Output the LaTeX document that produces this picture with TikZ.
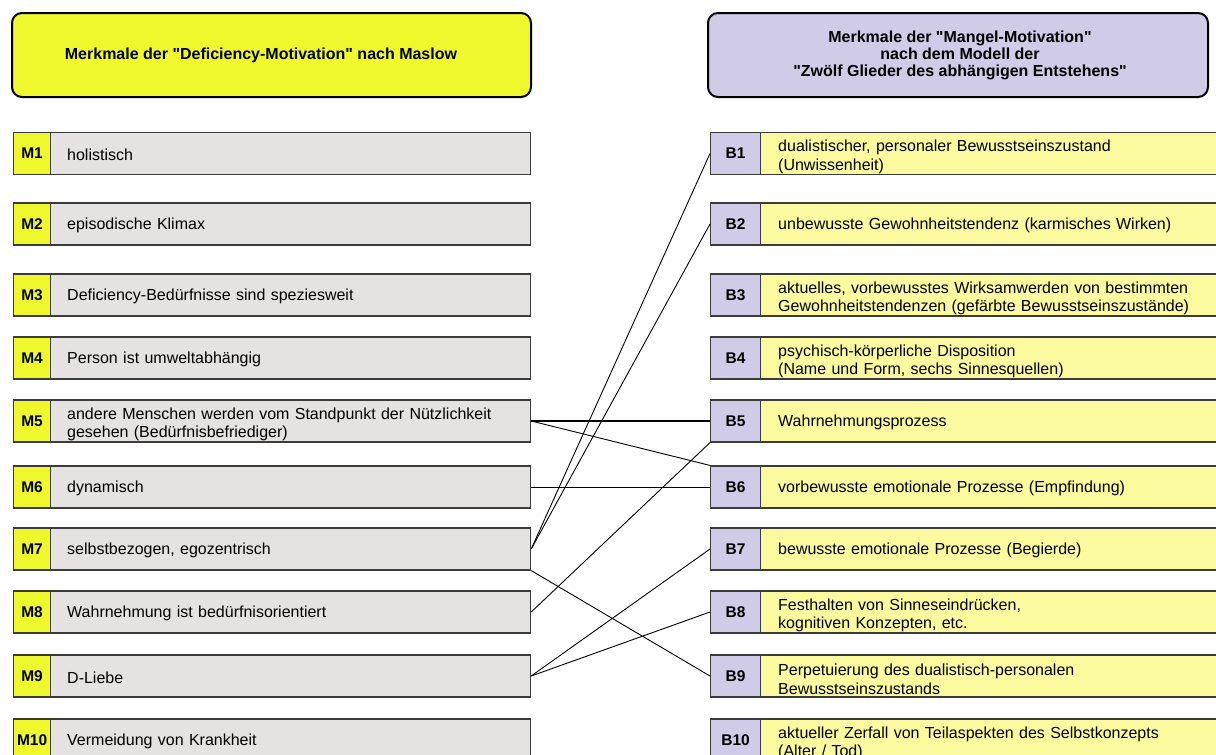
\documentclass[tikz,border=0pt]{standalone}
\usepackage{fontspec}
% keep straight double quotes as typed
\setmainfont{Liberation Sans}[Ligatures=TeXOff]

\definecolor{limey}{HTML}{EEF82C}
\definecolor{lilac}{HTML}{D0CBE7}
\definecolor{paleyellow}{HTML}{FCFA9E}
\definecolor{lightgrey}{HTML}{E5E3E1}
\definecolor{boxline}{HTML}{3C3C3C}

\tikzset{
  box/.style={draw=boxline, line width=1.2pt, inner sep=0pt, anchor=west,
              minimum height=42pt},
  labelfont/.style={font=\bfseries\fontsize{15.5}{18}\selectfont},
  mlabel/.style={box, fill=limey, minimum width=37pt, labelfont},
  mtext/.style={box, fill=lightgrey, minimum width=480pt},
  blabel/.style={box, fill=lilac, minimum width=50pt, labelfont},
  btext/.style={box, fill=paleyellow, minimum width=480pt},
  entry/.style={anchor=west, inner sep=0pt, align=left, text width=450pt,
                font=\fontsize{16}{18.5}\selectfont},
  header/.style={draw=black, line width=2pt, rounded corners=10pt,
                 minimum height=84pt, inner sep=0pt},
  headtext/.style={align=center, inner sep=0pt,
                   font=\bfseries\fontsize{16}{17}\selectfont},
  conn/.style={draw=black, line width=0.9pt},
}

% #1 id, #2 row centre, #3 label, #4 entry text, #5 downward nudge of the text
\newcommand{\mrow}[5]{%
  \node[mlabel] (m#1) at (13,#2) {#3};
  \node[mtext] (m#1t) at (50,#2) {};
  \node[entry] (m#1x) at ([xshift=17pt,yshift=-#5pt]m#1t.west) {#4};}
\newcommand{\brow}[5]{%
  \node[blabel] (b#1) at (710,#2) {#3};
  \node[btext] (b#1t) at (760,#2) {};
  \node[entry] (b#1x) at ([xshift=18pt,yshift=-#5pt]b#1t.west) {#4};}

\begin{document}
\begin{tikzpicture}[x=1pt,y=-1pt]
  \useasboundingbox (0,0) rectangle (1216,755);
  \clip (0,0) rectangle (1216,755);

  % column headers
  \node[header, fill=limey, minimum width=519pt] (hl) at (271.5,55) {};
  \node[headtext] (hltext) at (261,55)
    {Merkmale der "Deficiency-Motivation" nach Maslow};
  \node[header, fill=lilac, minimum width=500pt] (hr) at (958,55) {};
  \node[headtext] (hrtext) at (960,55)
    {Merkmale der "Mangel-Motivation"\\ nach dem Modell der\\
     "Zwölf Glieder des abhängigen Entstehens"};

  % left column
  \mrow{1}{153.5}{M1}{holistisch}{1.5}
  \mrow{2}{224}{M2}{episodische Klimax}{1.5}
  \mrow{3}{295}{M3}{Deficiency-Bedürfnisse sind speziesweit}{1.5}
  \mrow{4}{358}{M4}{Person ist umweltabhängig}{1.5}
  \mrow{5}{421}{M5}{andere Menschen werden vom Standpunkt der Nützlichkeit\\ gesehen (Bedürfnisbefriediger)}{3.5}
  \mrow{6}{487}{M6}{dynamisch}{1.5}
  \mrow{7}{549}{M7}{selbstbezogen, egozentrisch}{1.5}
  \mrow{8}{612}{M8}{Wahrnehmung ist bedürfnisorientiert}{1.5}
  \mrow{9}{676}{M9}{D-Liebe}{1.5}
  \mrow{10}{740}{M10}{Vermeidung von Krankheit}{1.5}

  % right column
  \brow{1}{153.5}{B1}{dualistischer, personaler Bewusstseinszustand\\ (Unwissenheit)}{3.5}
  \brow{2}{224}{B2}{unbewusste Gewohnheitstendenz (karmisches Wirken)}{1.5}
  \brow{3}{295}{B3}{aktuelles, vorbewusstes Wirksamwerden von bestimmten\\ Gewohnheitstendenzen (gefärbte Bewusstseinszustände)}{3.5}
  \brow{4}{358}{B4}{psychisch-körperliche Disposition\\ (Name und Form, sechs Sinnesquellen)}{3.5}
  \brow{5}{421}{B5}{Wahrnehmungsprozess}{1.5}
  \brow{6}{487}{B6}{vorbewusste emotionale Prozesse (Empfindung)}{1.5}
  \brow{7}{549}{B7}{bewusste emotionale Prozesse (Begierde)}{1.5}
  \brow{8}{612}{B8}{Festhalten von Sinneseindrücken,\\ kognitiven Konzepten, etc.}{3.5}
  \brow{9}{676}{B9}{Perpetuierung des dualistisch-personalen\\ Bewusstseinszustands}{3.5}
  \brow{10}{740}{B10}{aktueller Zerfall von Teilaspekten des Selbstkonzepts\\ (Alter / Tod)}{3.5}

  % correspondences
  \draw[conn, line width=1.8pt] (m5t.east) -- (b5.west);
  \draw[conn] (m5t.east) -- (b6.north west);
  \draw[conn] (m6t.east) -- (b6.west);
  \draw[conn] (m7t.east) -- (b1.west);
  \draw[conn] (m7t.east) -- (b2.west);
  \draw[conn] (m7t.south east) -- (b9.west);
  \draw[conn] (m8t.east) -- (b5.south west);
  \draw[conn] (m9t.east) -- (b7.west);
  \draw[conn] (m9t.east) -- (b8.west);
\end{tikzpicture}
\end{document}
